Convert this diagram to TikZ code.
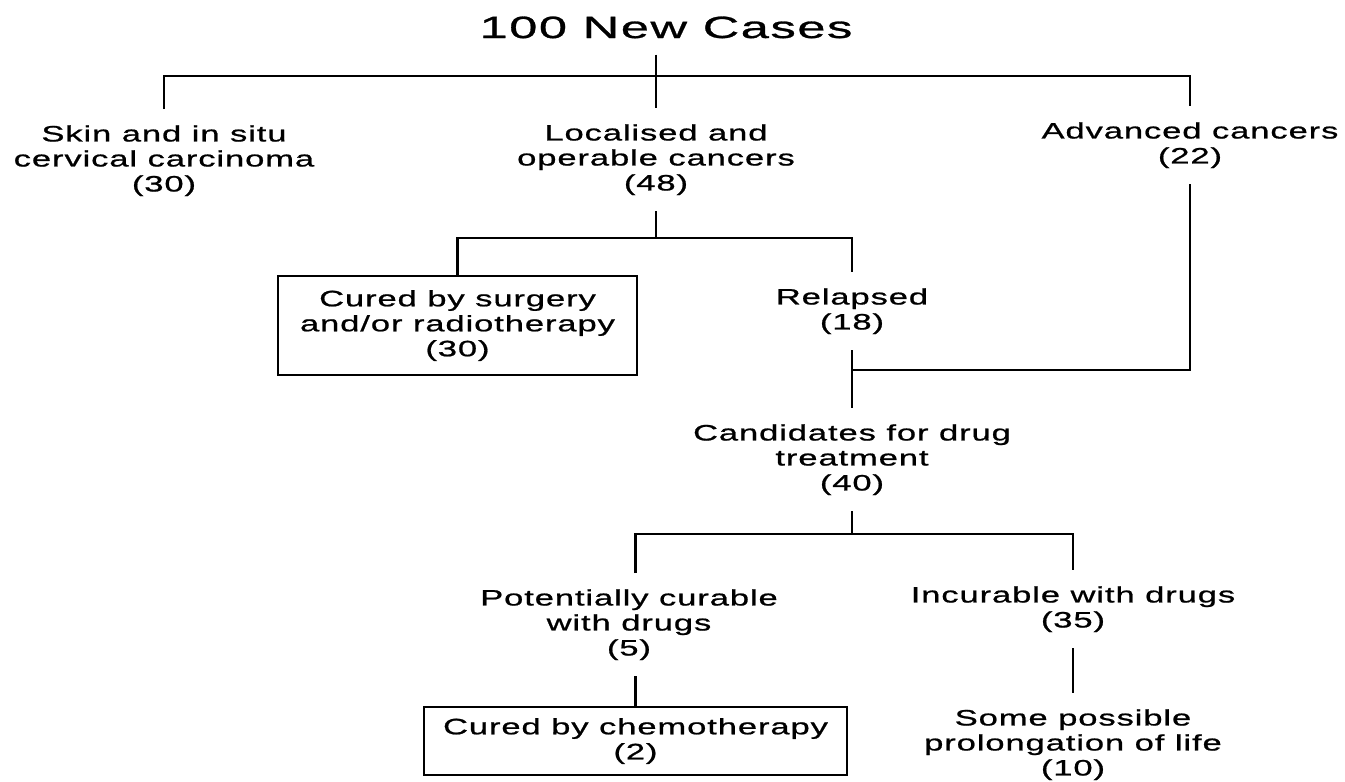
\documentclass[tikz,border=0pt]{standalone}
\usepackage{fontspec}
\setmainfont[FakeStretch=1.55,LetterSpace=4,FakeBold=0.9]{Liberation Sans}
\newfontfamily\titlefont[FakeStretch=1.65,LetterSpace=5,FakeBold=0.9]{Liberation Sans}

\begin{document}
\begin{tikzpicture}[x=1pt,y=-1pt,line width=2.6pt,
    lbl/.style={align=center,inner xsep=0pt,inner ysep=15pt,font=\fontsize{22.3}{25}\selectfont},
    curedbox/.style={draw,align=center,inner sep=0pt,font=\fontsize{22.3}{25}\selectfont}]
  \useasboundingbox (0,0) rectangle (1345,782);
  % labels
  \node[anchor=base,inner ysep=15pt,font=\titlefont\fontsize{30.7}{36}\selectfont] (title) at (666,38) {100 New Cases};
  \node[lbl,anchor=north] (skin) at (164,109) {Skin and in situ\\cervical carcinoma\\(30)};
  \node[lbl,anchor=north] (loc) at (656,108) {Localised and\\operable cancers\\(48)};
  \node[lbl,anchor=north] (adv) at (1190,106) {Advanced cancers\\(22)};
  \node[curedbox,minimum width=359pt,minimum height=99pt] (surg) at (457.5,325.5) {Cured by surgery\\and/or radiotherapy\\(30)};
  \node[lbl,anchor=north] (rel) at (852,272) {Relapsed\\(18)};
  \node[lbl,anchor=north] (cand) at (852,408) {Candidates for drug\\treatment\\(40)};
  \node[lbl,anchor=north] (pot) at (629,573) {Potentially curable\\with drugs\\(5)};
  \node[lbl,anchor=north] (inc) at (1073,570) {Incurable with drugs\\(35)};
  \node[curedbox,minimum width=423pt,minimum height=68pt] (chemo) at (635.5,741) {Cured by chemotherapy\\(2)};
  \node[lbl,anchor=north] (life) at (1073,693) {Some possible\\prolongation of life\\(10)};
  % junctions
  \coordinate (bar1) at (656,76);
  \coordinate (bar2) at (656,238);
  \coordinate (join) at (852,370);
  \coordinate (bar3) at (852,534);
  % connectors
  \draw (skin.north) |- (bar1) -| (adv.north);
  \draw (title.south -| loc.north) -- (loc.north);
  \draw (loc.south) -- (bar2);
  \draw (surg.north) |- (bar2) -| (rel.north);
  \draw (rel.south) -- (cand.north);
  \draw (adv.south) |- (join);
  \draw (cand.south) -- (bar3);
  \draw (pot.north -| chemo.north) |- (bar3) -| (inc.north);
  \draw (pot.south -| chemo.north) -- (chemo.north);
  \draw (inc.south) -- (life.north);
\end{tikzpicture}
\end{document}
